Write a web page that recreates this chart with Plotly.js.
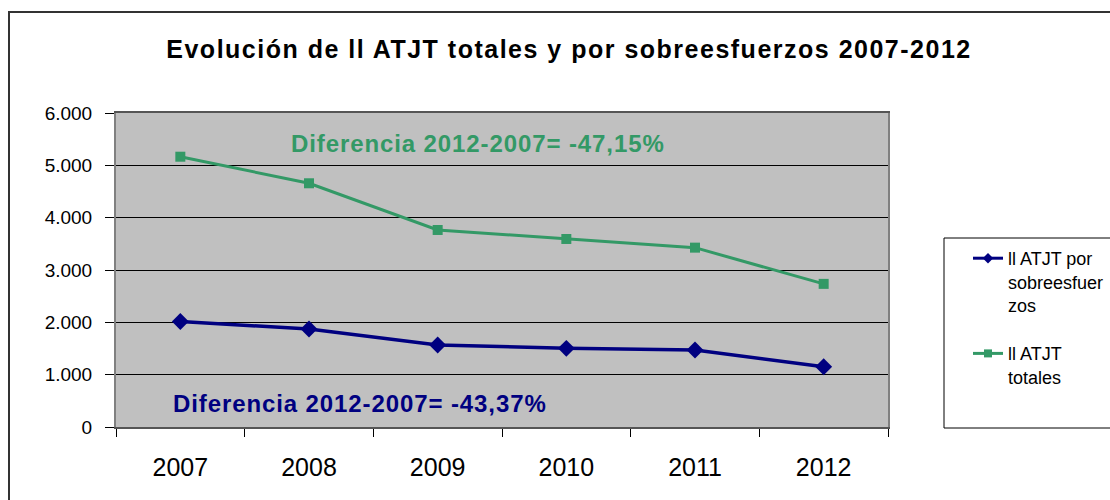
<!DOCTYPE html>
<html>
<head>
<meta charset="utf-8">
<script src="https://cdn.plot.ly/plotly-3.0.1.min.js"></script>
<style>
  html, body { margin: 0; padding: 0; background: #fff; }
  #chart { width: 1110px; height: 500px; }
  .gtitle { letter-spacing: 1.5px; }
  .annotation-text { letter-spacing: 0.9px; }
</style>
</head>
<body>
<div id="chart"></div>
<script>
// ---- data ----
const years = ["2007", "2008", "2009", "2010", "2011", "2012"];
const sobreesfuerzos = [2015, 1873, 1567, 1503, 1471, 1150];
const totales = [5165, 4657, 3765, 3593, 3427, 2735];
const yTickVals = [0, 1000, 2000, 3000, 4000, 5000, 6000];
const yTickText = ["0", "1.000", "2.000", "3.000", "4.000", "5.000", "6.000"];
const titleText = "Evolución de ll ATJT totales y por sobreesfuerzos 2007-2012";
const nameSobre = "ll ATJT por<br>sobreesfuer<br>zos";
const nameTotales = "ll ATJT<br>totales";
const diffTotales = "Diferencia 2012-2007= -47,15%";
const diffSobre = "Diferencia 2012-2007= -43,37%";

// ---- layout helpers (pixel -> paper) ----
const L = 116, R = 888, T = 113, B = 427, W = 1110, H = 500;
const px = v => (v - L) / (R - L);
const py = v => (B - v) / (B - T);

const BLUE = "#000080", GREEN = "#339966";

const traces = [
  {
    x: years, y: sobreesfuerzos, name: nameSobre, type: "scatter", mode: "lines+markers",
    showlegend: false,
    line: { color: BLUE, width: 3.5 },
    marker: { symbol: "diamond", size: 13, color: BLUE }
  },
  {
    x: years, y: totales, name: nameTotales, type: "scatter", mode: "lines+markers",
    showlegend: false,
    line: { color: GREEN, width: 3 },
    marker: { symbol: "square", size: 10, color: GREEN }
  },
  // legend entries (smaller symbols, as in the original legend)
  {
    x: [null], y: [null], name: nameSobre, type: "scatter", mode: "lines+markers",
    legendgroup: "a",
    line: { color: BLUE, width: 3 },
    marker: { symbol: "diamond", size: 8, color: BLUE }
  },
  {
    x: [null], y: [null], name: nameTotales, type: "scatter", mode: "lines+markers",
    legendgroup: "b",
    line: { color: GREEN, width: 3 },
    marker: { symbol: "square", size: 8, color: GREEN }
  }
];

const layout = {
  width: W, height: H,
  paper_bgcolor: "#ffffff",
  plot_bgcolor: "#C0C0C0",
  margin: { l: L, r: W - R, t: T, b: H - B, autoexpand: false },
  font: { family: "Liberation Sans, Arial, sans-serif", color: "#000" },
  title: {
    text: "<b>" + titleText + "</b>",
    font: { size: 25, family: "Liberation Sans, Arial, sans-serif", color: "#000" },
    xref: "container", x: 569 / W, xanchor: "center",
    yref: "container", y: 1 - 49 / H, yanchor: "middle"
  },
  xaxis: {
    type: "category",
    range: [-0.5, 5.5],
    tickson: "boundaries",
    ticks: "outside", ticklen: 8, tickcolor: "#000", tickwidth: 1,
    showgrid: false,
    showline: true, linecolor: "#555555", linewidth: 2, mirror: true,
    tickfont: { size: 25, color: "#000" },
    ticklabelstandoff: 17,
    fixedrange: true
  },
  yaxis: {
    range: [0, 6000],
    tickmode: "array", tickvals: yTickVals, ticktext: yTickText,
    ticks: "outside", ticklen: 9, tickcolor: "#000", tickwidth: 1,
    showgrid: true, gridcolor: "#000000", gridwidth: 1,
    zeroline: false,
    showline: true, linecolor: "#808080", linewidth: 2, mirror: true,
    tickfont: { size: 19, color: "#000" },
    ticklabelstandoff: 9,
    fixedrange: true
  },
  showlegend: true,
  legend: {
    x: px(968), xanchor: "left",
    y: py(240), yanchor: "top",
    bgcolor: "rgba(0,0,0,0)",
    borderwidth: 0,
    font: { size: 18, color: "#000" },
    valign: "top",
    traceorder: "grouped",
    tracegroupgap: 22
  },
  annotations: [
    {
      xref: "paper", yref: "paper", x: px(478), y: py(143),
      xanchor: "center", yanchor: "middle", showarrow: false,
      text: "<b>" + diffTotales + "</b>",
      font: { size: 24, color: GREEN }
    },
    {
      xref: "paper", yref: "paper", x: px(360), y: py(403),
      xanchor: "center", yanchor: "middle", showarrow: false,
      text: "<b>" + diffSobre + "</b>",
      font: { size: 24, color: BLUE }
    }
  ],
  shapes: [
    // outer chart frame
    {
      type: "rect", xref: "paper", yref: "paper", layer: "above",
      x0: px(9), x1: px(1120), y0: py(510), y1: py(12),
      line: { color: "#333333", width: 2 }, fillcolor: "rgba(0,0,0,0)"
    },
    // legend box
    {
      type: "rect", xref: "paper", yref: "paper", layer: "above",
      x0: px(944), x1: px(1120), y0: py(428), y1: py(238),
      line: { color: "#000000", width: 1 }, fillcolor: "rgba(0,0,0,0)"
    }
  ],
  hovermode: false
};

Plotly.newPlot("chart", traces, layout, { staticPlot: true, displayModeBar: false });
</script>
</body>
</html>
